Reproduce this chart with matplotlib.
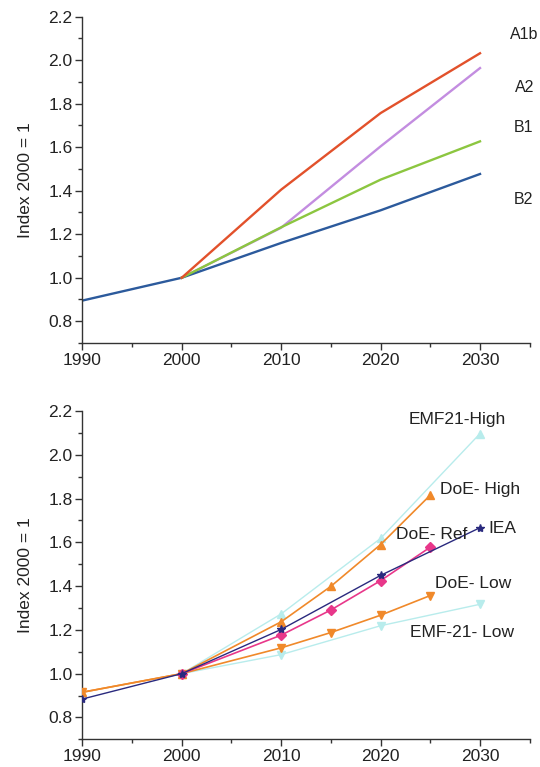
import matplotlib
matplotlib.use("Agg")
import matplotlib.pyplot as plt
from matplotlib.ticker import MultipleLocator

plt.rcParams['font.family'] = ['Liberation Sans', 'DejaVu Sans']

# ---- Top panel data (SRES scenarios) ----
top_years_hist = [1990, 2000]
top_years = [2000, 2010, 2020, 2030]
a1b = [1.0, 1.405, 1.757, 2.032]
a2 = [1.0, 1.23, 1.604, 1.964]
b1 = [1.0, 1.232, 1.451, 1.627]
b2_hist = [0.895, 1.0]
b2 = [1.0, 1.16, 1.31, 1.477]
top_labels = ["A1b", "A2", "B1", "B2"]
top_label_x = [2033.0, 2033.5, 2033.4, 2033.4]
top_label_y = [2.116, 1.873, 1.689, 1.359]

# ---- Bottom panel data (projections) ----
emf_high_years = [2000, 2010, 2020, 2030]
emf_high = [1.0, 1.273, 1.618, 2.097]
doe_years = [1990, 2000, 2010, 2015, 2020, 2025]
doe_high = [0.915, 1.0, 1.237, 1.399, 1.59, 1.816]
doe_low = [0.915, 1.0, 1.118, 1.188, 1.267, 1.357]
doe_ref_years = [2000, 2010, 2015, 2020, 2025]
doe_ref = [1.0, 1.176, 1.291, 1.425, 1.578]
iea_years = [1990, 2000, 2010, 2020, 2030]
iea = [0.884, 1.0, 1.202, 1.449, 1.667]
emf_low_years = [2000, 2010, 2020, 2030]
emf_low = [1.0, 1.087, 1.219, 1.317]

bottom_labels = ["EMF21-High", "DoE- High", "IEA", "DoE- Ref", "DoE- Low", "EMF-21- Low"]
bottom_label_x = [2022.8, 2026.0, 2030.8, 2021.5, 2025.5, 2023.0]
bottom_label_y = [2.163, 1.84, 1.663, 1.637, 1.411, 1.188]

xticks = [1990, 2000, 2010, 2020, 2030]
yticks = [0.8, 1.0, 1.2, 1.4, 1.6, 1.8, 2.0, 2.2]

fig = plt.figure(figsize=(5.4, 7.67), dpi=100)
ax1 = fig.add_axes([0.1524, 0.5528, 0.981 - 0.1524, 0.9782 - 0.5528])
ax2 = fig.add_axes([0.1524, 0.0361, 0.981 - 0.1524, 0.4641 - 0.0361])

spine_col = "#333333"
text_col = "#222222"

def style(ax):
    ax.set_xlim(1990, 2035)
    ax.set_ylim(0.7, 2.2)
    ax.set_xticks(xticks)
    ax.set_xticklabels([str(x) for x in xticks])
    ax.set_yticks(yticks)
    ax.set_yticklabels([f"{y:.1f}" for y in yticks])
    ax.xaxis.set_minor_locator(MultipleLocator(5))
    ax.yaxis.set_minor_locator(MultipleLocator(0.1))
    for s in ["top", "right"]:
        ax.spines[s].set_visible(False)
    for s in ["left", "bottom"]:
        ax.spines[s].set_color(spine_col)
        ax.spines[s].set_linewidth(1.0)
    ax.tick_params(axis="both", which="major", length=5, width=1.0,
                   color=spine_col, labelsize=12.5, labelcolor=text_col, pad=2)
    ax.tick_params(axis="both", which="minor", length=3, width=1.0, color=spine_col)
    ax.set_ylabel("Index 2000 = 1", fontsize=12.5, color=text_col, labelpad=11)

# Top panel
style(ax1)
ax1.plot(top_years_hist, b2_hist, color="#2c5a9c", lw=1.7)
ax1.plot(top_years, b2, color="#2c5a9c", lw=1.7, zorder=3)
ax1.plot(top_years, b1, color="#8cc640", lw=1.7, zorder=3)
ax1.plot(top_years, a2, color="#c38de0", lw=1.7, zorder=2)
ax1.plot(top_years, a1b, color="#e2512b", lw=1.7, zorder=4)
for lab, lx, ly in zip(top_labels, top_label_x, top_label_y):
    ax1.text(lx, ly, lab, fontsize=11.5, color=text_col, ha="left", va="center", clip_on=False)

# Bottom panel
style(ax2)
orange = "#f0892a"
cyan = "#b8ecec"
ax2.plot(doe_years, doe_high, color=orange, lw=1.2, marker="^", ms=6, zorder=3)
ax2.plot(doe_years, doe_low, color=orange, lw=1.2, marker="v", ms=6, zorder=3)
ax2.plot(iea_years, iea, color="#2a2a7e", lw=1.0, marker="*", ms=6, zorder=4)
ax2.plot(doe_ref_years, doe_ref, color="#e8378a", lw=1.2, marker="D", ms=5, zorder=3)
ax2.plot(emf_high_years, emf_high, color=cyan, lw=1.0, marker="^", ms=6, zorder=2)
ax2.plot(emf_low_years, emf_low, color=cyan, lw=1.0, marker="v", ms=6, zorder=2)
for lab, lx, ly in zip(bottom_labels, bottom_label_x, bottom_label_y):
    ax2.text(lx, ly, lab, fontsize=12.5, color=text_col, ha="left", va="center", clip_on=False, zorder=6)

fig.savefig("out.png", dpi=100)
